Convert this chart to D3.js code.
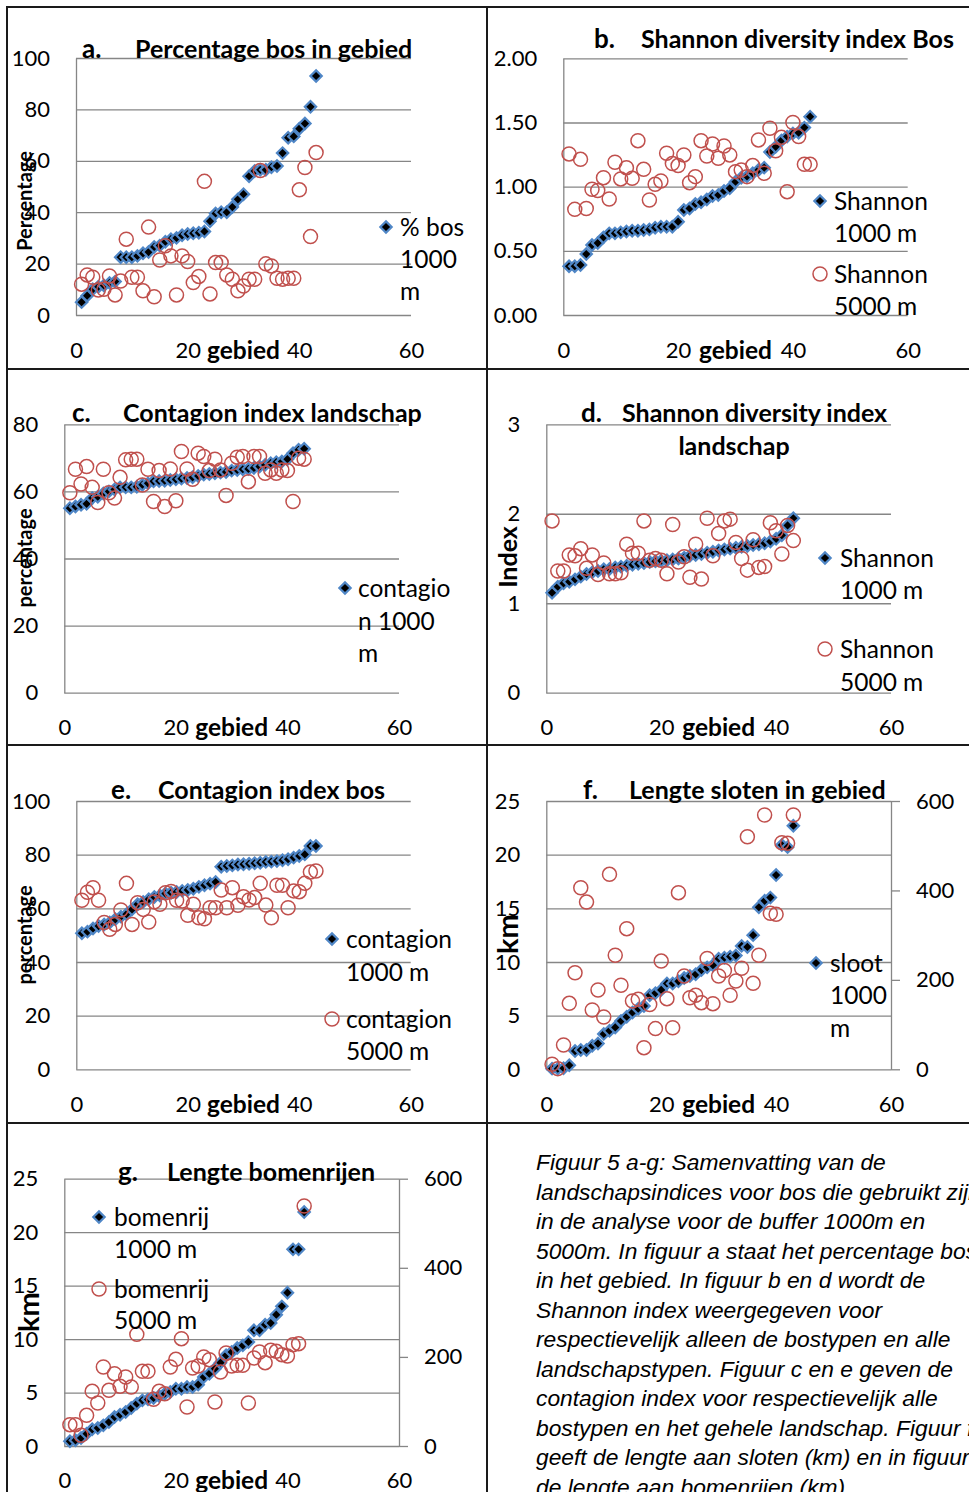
<!DOCTYPE html>
<html>
<head>
<meta charset="utf-8">
<script src="https://cdn.jsdelivr.net/npm/d3@7"></script>
<style>
  body { margin: 0; background: #fff; }
  svg { display: block; }
</style>
</head>
<body>
<svg id="fig" width="969" height="1492"></svg>
<script>
// ---- data: 43 gebieden, sorted on the 1000 m value ----
const gebied = [1,2,3,4,5,6,7,8,9,10,11,12,13,14,15,16,17,18,19,20,21,22,23,24,25,26,27,28,29,30,31,32,33,34,35,36,37,38,39,40,41,42,43];
const xTicks = [0, 20, 40, 60];

// a. percentage bos
const pctTicks = [0, 20, 40, 60, 80, 100];
const pctBos1000 = [5,7.5,10,11,11.5,12.5,13,22.5,22.5,22.5,23,24,24.5,26.5,27,28.5,29.5,30,31,31.5,31.8,32,32.5,36.5,39.5,40,40,42,45,47,54,56,56.5,56.5,57.5,58,63,69,69.5,72.5,74.5,81,93];
const pctBos5000 = [12,15.6,14.7,9.7,10,15.2,7.8,13.2,29.5,14.7,14.7,9.4,34.2,7.1,21.4,26.9,23,7.8,23,20.8,12.6,15,52,8.2,20.4,20.4,15.6,13.9,9.4,11.3,13.9,13.9,56.2,19.9,19.1,14.3,13.9,14.3,14.3,48.7,57.4,30.5,63.2];

// b. Shannon diversity index bos
const shannonBosTicks = [0, 0.5, 1, 1.5, 2];
const shannonBos1000 = [0.38,0.38,0.39,0.475,0.545,0.56,0.605,0.636,0.636,0.644,0.65,0.657,0.657,0.662,0.667,0.68,0.688,0.688,0.688,0.727,0.818,0.83,0.865,0.878,0.9,0.927,0.935,0.966,0.987,1.039,1.07,1.08,1.104,1.13,1.148,1.27,1.31,1.36,1.39,1.415,1.42,1.46,1.545];
const shannonBos5000 = [1.255,0.823,1.213,0.83,0.98,0.97,1.07,0.904,1.19,1.06,1.148,1.065,1.358,1.135,0.896,1.018,1.044,1.26,1.18,1.164,1.247,1.031,1.078,1.358,1.239,1.332,1.221,1.317,1.247,1.117,1.13,1.078,1.164,1.364,1.104,1.455,1.28,1.384,0.961,1.5,1.39,1.174,1.174];

// c. contagion index landschap
const contLandTicks = [0, 20, 40, 60, 80];
const contLand1000 = [55,55.5,56,56.3,58,58.4,59.4,60,60.6,61.2,61.2,61.2,61.4,62,62.4,63,63.1,63.2,63.4,63.6,63.8,64,64.2,64.6,65,65.2,65.4,65.6,65.8,66.2,66.4,66.6,66.7,67,67.4,67.9,68.4,68.7,68.9,69.6,71.4,72.4,72.7];
const contLand5000 = [59.6,66.6,62.2,67.4,61.2,56.7,66.6,59.6,58,64.2,69.4,69.6,69.6,61.9,66.6,57,66.2,55.5,66.7,57.2,71.9,66.7,63.6,71.4,70.4,66.2,69.6,66.4,58.8,68.4,70.2,70.4,62.9,70.4,70.4,65.4,66.4,65.4,66.4,66.2,57,69.9,69.6];

// d. Shannon diversity index landschap
const shannonLandTicks = [0, 1, 2, 3];
const shannonLand1000 = [1.118,1.185,1.222,1.241,1.267,1.297,1.327,1.345,1.36,1.379,1.383,1.4,1.409,1.42,1.43,1.44,1.45,1.46,1.47,1.475,1.48,1.49,1.5,1.51,1.53,1.54,1.55,1.565,1.575,1.59,1.6,1.61,1.62,1.63,1.64,1.65,1.66,1.67,1.69,1.72,1.76,1.87,1.95];
const shannonLand5000 = [1.92,1.36,1.36,1.54,1.53,1.61,1.39,1.54,1.32,1.45,1.33,1.33,1.34,1.66,1.56,1.56,1.92,1.48,1.5,1.48,1.33,1.88,1.46,1.52,1.29,1.66,1.27,1.95,1.53,1.78,1.92,1.94,1.68,1.5,1.37,1.71,1.4,1.41,1.9,1.81,1.55,1.87,1.7];

// e. contagion index bos
const contBos1000 = [50.7,51.3,52.5,53.4,54,54.7,55.9,56.9,57.8,59.6,61.5,62.4,63.4,64.2,64.8,65.5,65.8,66.1,66.5,66.8,67.3,68,68.6,69.2,69.8,75.5,75.8,76,76.3,76.4,76.6,76.8,77,77.3,77.4,77.6,77.9,78.3,78.9,79.5,80.1,83.2,83.2];
const contBos5000 = [63,66,67.7,63,54.7,52.2,54,59.4,69.3,54,62.1,59.6,54.9,62.4,61.5,65.8,66.3,63,62.7,57.4,61.5,56.5,56.1,60.2,60.2,66.8,60.2,67.7,61.1,64.3,63.1,64,69.3,61.2,56.5,68.6,68.6,60.2,66.5,66.2,69.3,73.5,73.9];

// f. lengte sloten (km); 5000 m on the secondary axis
const kmTicks = [0, 5, 10, 15, 20, 25];
const kmRightTicks = [0, 200, 400, 600];
const sloot1000 = [0.06,0.06,0.1,0.37,1.7,1.8,1.8,2.2,2.4,3.3,3.6,3.9,4.5,4.9,5.3,5.65,5.9,6.9,7.1,7.4,8,8,8.2,8.5,8.7,8.85,9.25,9.5,9.7,10.3,10.4,10.5,10.6,11.5,11.4,12.5,15.1,15.7,16,18.1,20.9,20.7,22.7];
const sloot5000 = [11.2,1.5,54.4,147.6,216,406,374,132.7,177.4,117,436,255,188,314.5,152.8,156.5,48.4,145,91,242,158,93,395,208.7,160,165.5,149,248,146.8,208.7,221,165.5,197.5,226,520,192.3,255,568.7,348.8,346.6,506.8,505.3,568.7];

// g. lengte bomenrijen (km); 5000 m on the secondary axis
const bomen1000 = [0.44,0.53,0.75,1.15,1.56,1.68,1.93,2.24,2.71,2.93,3.18,3.55,3.96,4.27,4.36,4.49,4.68,4.89,5.05,5.36,5.36,5.52,5.52,5.74,6.45,6.76,7.23,7.79,8.48,8.79,9.16,9.41,9.73,10.82,10.82,11.35,11.5,12.28,13.06,14.34,18.39,18.39,21.88];
const bomen5000 = [47.9,47.9,23.9,68.8,122.7,96.5,177.3,125,162.3,134,154.9,132.4,250.6,167.6,167.6,104.7,122.7,117.5,177.3,194.5,240.9,87.5,175,179.6,199.8,193.8,98.8,166.1,208.7,179.6,181,181,96.5,197.5,211,187,214.7,212.5,205,202,227.4,229.7,538.7];

const captionLines = [
  "Figuur 5 a-g: Samenvatting van de",
  "landschapsindices voor bos die gebruikt zijn",
  "in de analyse voor de buffer 1000m en",
  "5000m. In figuur a staat het percentage bos",
  "in het gebied. In figuur b en d wordt de",
  "Shannon index weergegeven voor",
  "respectievelijk alleen de bostypen en alle",
  "landschapstypen. Figuur c en e geven de",
  "contagion index voor respectievelijk alle",
  "bostypen en het gehele landschap. Figuur f",
  "geeft de lengte aan sloten (km) en in figuur g",
  "de lengte aan bomenrijen (km)."
];

// ---- styling ----
const FONT = 'Lato, "Open Sans", sans-serif';
const GRID = '#868686';
const DIA_FILL = '#000000';
const DIA_STROKE = '#4f86c6';
const CIRC_STROKE = '#c0504d';
const TICK_SIZE = 22, LEGEND_SIZE = 24.5, TITLE_SIZE = 25;

const svg = d3.select('#fig');
svg.append('rect').attr('width', 969).attr('height', 1492).attr('fill', '#fff');

// ---- panel layout ----
const panels = [
  { x0: 76, x1: 411, yTop: 58, yBot: 315, yTicks: pctTicks, xLabelY: 350,
    letter: ['a.', 82, 49], title: [['Percentage bos in gebied', 135, 49]],
    yTitle: ['Percentage', 25, 201, 20],
    s1: pctBos1000, s2: pctBos5000,
    legend: [{ type: 'dia', mx: 386, my: 227, tx: 400, lines: ['% bos', '1000', 'm'], ly: [227, 259, 291] }] },
  { x0: 563.3, x1: 907.7, yTop: 58.3, yBot: 315, yTicks: shannonBosTicks, fmt: d3.format('.2f'), xLabelY: 350,
    letter: ['b.', 594, 39], title: [['Shannon diversity index Bos', 641, 39]],
    s1: shannonBos1000, s2: shannonBos5000,
    legend: [{ type: 'dia', mx: 820, my: 201, tx: 834, lines: ['Shannon', '1000 m'], ly: [201, 233] },
             { type: 'circ', mx: 820, my: 274, tx: 834, lines: ['Shannon', '5000 m'], ly: [274, 306] }] },
  { x0: 64.3, x1: 399, yTop: 424.3, yBot: 692.7, yTicks: contLandTicks, xLabelY: 727,
    letter: ['c.', 72, 413], title: [['Contagion index landschap', 123, 413]],
    yTitle: ['percentage', 25, 558, 20],
    s1: contLand1000, s2: contLand5000,
    legend: [{ type: 'dia', mx: 345, my: 588, tx: 358, lines: ['contagio', 'n 1000', 'm'], ly: [588, 621, 653] }] },
  { x0: 546.3, x1: 891, yTop: 424.3, yBot: 692.7, yTicks: shannonLandTicks, xLabelY: 727,
    letter: ['d.', 581, 413], title: [['Shannon diversity index', 622, 413], ['landschap', 734, 446, 'middle']],
    yTitle: ['Index', 508, 557, 25],
    s1: shannonLand1000, s2: shannonLand5000,
    legend: [{ type: 'dia', mx: 825, my: 558, tx: 840, lines: ['Shannon', '1000 m'], ly: [558, 590] },
             { type: 'circ', mx: 825, my: 649, tx: 840, lines: ['Shannon', '5000 m'], ly: [649, 682] }] },
  { x0: 76.3, x1: 410.7, yTop: 801, yBot: 1069.3, yTicks: pctTicks, xLabelY: 1104,
    letter: ['e.', 111, 790], title: [['Contagion index bos', 158, 790]],
    yTitle: ['percentage', 25, 935, 20],
    s1: contBos1000, s2: contBos5000,
    legend: [{ type: 'dia', mx: 332, my: 939, tx: 346, lines: ['contagion', '1000 m'], ly: [939, 972] },
             { type: 'circ', mx: 332, my: 1019, tx: 346, lines: ['contagion', '5000 m'], ly: [1019, 1051] }] },
  { x0: 546.3, x1: 891, yTop: 801, yBot: 1069.3, yTicks: kmTicks, rTicks: kmRightTicks, xLabelY: 1104,
    letter: ['f.', 583, 790], title: [['Lengte sloten in gebied', 629, 790]],
    yTitle: ['km', 508, 934, 29],
    s1: sloot1000, s2: sloot5000,
    legend: [{ type: 'dia', mx: 816, my: 963, tx: 830, lines: ['sloot', '1000', 'm'], ly: [963, 995, 1028] }] },
  { x0: 64.3, x1: 399, yTop: 1178.7, yBot: 1446, yTicks: kmTicks, rTicks: kmRightTicks, xLabelY: 1480,
    letter: ['g.', 118, 1172], title: [['Lengte bomenrijen', 167, 1172]],
    yTitle: ['km', 29, 1312, 29],
    s1: bomen1000, s2: bomen5000,
    legend: [{ type: 'dia', mx: 99, my: 1217, tx: 114, lines: ['bomenrij', '1000 m'], ly: [1217, 1249] },
             { type: 'circ', mx: 99, my: 1289, tx: 114, lines: ['bomenrij', '5000 m'], ly: [1289, 1320] }] }
];

const diamondPath = d3.symbol(d3.symbolSquare, 64)();

function styleAxisText(sel, size) {
  sel.selectAll('text').attr('font-family', FONT).attr('font-size', size).attr('fill', '#000');
}

function drawMarker(g, type, cx, cy) {
  if (type === 'dia') {
    g.append('path').attr('d', diamondPath)
      .attr('transform', `translate(${cx},${cy}) rotate(45)`)
      .attr('fill', DIA_FILL).attr('stroke', DIA_STROKE).attr('stroke-width', 2.2);
  } else {
    g.append('circle').attr('cx', cx).attr('cy', cy).attr('r', 7)
      .attr('fill', 'none').attr('stroke', CIRC_STROKE).attr('stroke-width', 1.5);
  }
}

function drawPanel(p) {
  const g = svg.append('g');
  const x = d3.scaleLinear().domain([0, 60]).range([p.x0, p.x1]);
  const y = d3.scaleLinear().domain([0, p.yTicks[p.yTicks.length - 1]]).range([p.yBot, p.yTop]);

  // left value axis with horizontal gridlines
  const ya = g.append('g').attr('transform', `translate(${p.x0},0)`)
    .call(d3.axisLeft(y).tickValues(p.yTicks).tickFormat(p.fmt || d3.format('d'))
      .tickSizeInner(-(p.x1 - p.x0)).tickSizeOuter(0).tickPadding(26));
  ya.selectAll('line').attr('stroke', GRID).attr('stroke-width', 1.3);
  ya.select('.domain').attr('stroke', GRID).attr('stroke-width', 1.3);
  styleAxisText(ya, TICK_SIZE);

  // secondary axis (5000 m series)
  let y2 = y;
  if (p.rTicks) {
    y2 = d3.scaleLinear().domain([0, p.rTicks[p.rTicks.length - 1]]).range([p.yBot, p.yTop]);
    const ra = g.append('g').attr('transform', `translate(${p.x1},0)`)
      .call(d3.axisRight(y2).tickValues(p.rTicks).tickFormat(d3.format('d'))
        .tickSizeInner(9).tickSizeOuter(0).tickPadding(16));
    ra.selectAll('line').attr('stroke', GRID).attr('stroke-width', 1.3);
    ra.select('.domain').attr('stroke', GRID).attr('stroke-width', 1.3);
    styleAxisText(ra, TICK_SIZE);
  }

  // category axis labels
  const xa = g.append('g').attr('transform', `translate(0,${p.xLabelY})`)
    .call(d3.axisBottom(x).tickValues(xTicks).tickSize(0).tickPadding(0));
  xa.select('.domain').remove();
  xa.selectAll('line').remove();
  xa.selectAll('text').attr('y', 0).attr('dy', '0.35em');
  styleAxisText(xa, TICK_SIZE);
  g.append('text').attr('x', x(30)).attr('y', p.xLabelY).attr('dy', '0.35em')
    .attr('text-anchor', 'middle').attr('font-family', FONT).attr('font-size', 24.5)
    .attr('font-weight', 'bold').text('gebied');

  // series: 1000 m diamonds, 5000 m circles
  const pts1 = d3.zip(gebied, p.s1);
  const pts2 = d3.zip(gebied, p.s2);
  g.append('g').selectAll('path').data(pts1).join('path')
    .attr('d', diamondPath)
    .attr('transform', d => `translate(${x(d[0])},${y(d[1])}) rotate(45)`)
    .attr('fill', DIA_FILL).attr('stroke', DIA_STROKE).attr('stroke-width', 2.2);
  g.append('g').selectAll('circle').data(pts2).join('circle')
    .attr('cx', d => x(d[0])).attr('cy', d => y2(d[1])).attr('r', 7)
    .attr('fill', 'none').attr('stroke', CIRC_STROKE).attr('stroke-width', 1.5);

  // title
  g.append('text').attr('x', p.letter[1]).attr('y', p.letter[2]).attr('dy', '0.35em')
    .attr('font-family', FONT).attr('font-size', TITLE_SIZE + 1).attr('font-weight', 'bold').text(p.letter[0]);
  p.title.forEach(t => {
    g.append('text').attr('x', t[1]).attr('y', t[2]).attr('dy', '0.35em')
      .attr('text-anchor', t[3] || 'start')
      .attr('font-family', FONT).attr('font-size', TITLE_SIZE).attr('font-weight', 'bold').text(t[0]);
  });

  // value axis title
  if (p.yTitle) {
    g.append('text').attr('transform', `translate(${p.yTitle[1]},${p.yTitle[2]}) rotate(-90)`)
      .attr('dy', '0.35em').attr('text-anchor', 'middle')
      .attr('font-family', FONT).attr('font-size', p.yTitle[3]).attr('font-weight', 'bold')
      .text(p.yTitle[0]);
  }

  // legend
  p.legend.forEach(l => {
    drawMarker(g, l.type, l.mx, l.my);
    l.lines.forEach((s, i) => {
      g.append('text').attr('x', l.tx).attr('y', l.ly[i]).attr('dy', '0.35em')
        .attr('font-family', FONT).attr('font-size', LEGEND_SIZE).attr('fill', '#000').text(s);
    });
  });
}

panels.forEach(drawPanel);

// caption
svg.append('g').selectAll('text').data(captionLines).join('text')
  .attr('x', 536).attr('y', (d, i) => 1170 + i * 29.5)
  .attr('font-family', '"Liberation Sans", Arial, sans-serif')
  .attr('font-style', 'italic').attr('font-size', 22.8).attr('fill', '#000')
  .text(d => d);

// cell frame
const frame = svg.append('g').attr('stroke', '#1a1a1a').attr('stroke-width', 2);
[7, 487].forEach(vx => frame.append('line').attr('x1', vx).attr('x2', vx).attr('y1', 6).attr('y2', 1492));
[7, 369, 745, 1123].forEach(hy => frame.append('line').attr('x1', 6).attr('x2', 969).attr('y1', hy).attr('y2', hy));
</script>
</body>
</html>
